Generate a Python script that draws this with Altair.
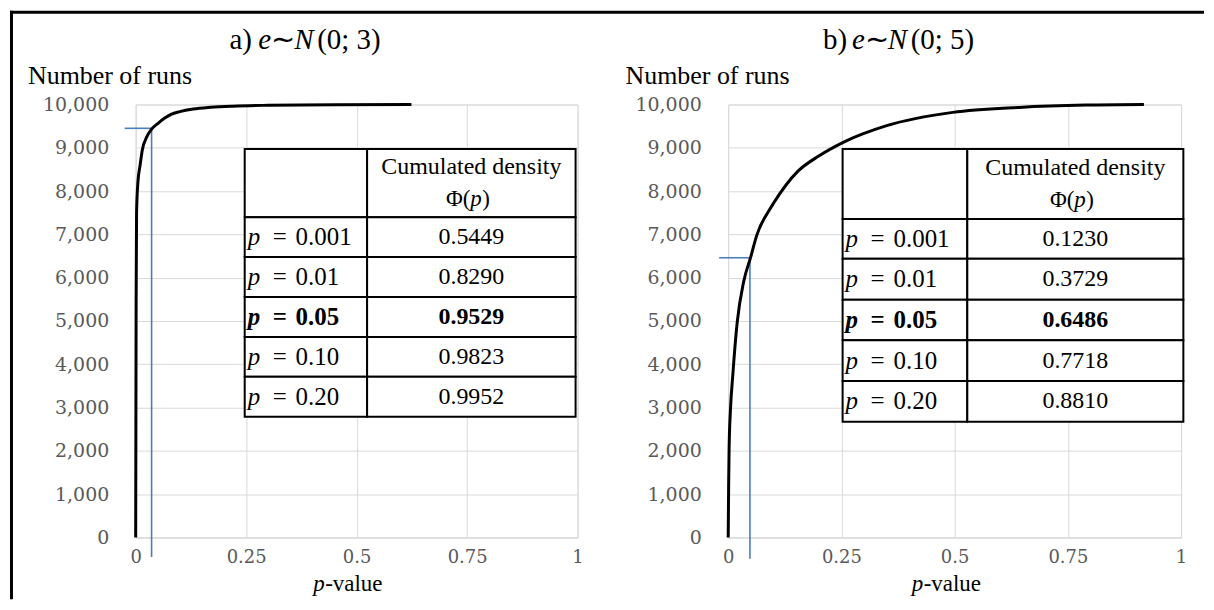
import altair as alt
import pandas as pd

# ---------------- data ----------------
panel_letters = ["a)", "b)"]
panel_sigmas = ["(0; 3)", "(0; 5)"]

p_a = [0, 0.001, 0.002, 0.005, 0.01, 0.015, 0.025, 0.036, 0.05, 0.065, 0.08, 0.1, 0.13, 0.17, 0.22, 0.3, 0.45, 0.624]
runs_a = [0, 5449, 7500, 8200, 8600, 8950, 9250, 9430, 9560, 9680, 9770, 9835, 9895, 9935, 9962, 9982, 9996, 10000]

p_b = [0, 0.001, 0.002, 0.005, 0.01, 0.02, 0.034, 0.05, 0.063, 0.0925, 0.1, 0.1535, 0.2, 0.254, 0.35, 0.496, 0.643, 0.79, 0.918]
runs_b = [0, 1230, 2050, 2950, 3729, 4977, 5900, 6486, 6977, 7591, 7718, 8454, 8810, 9126, 9511, 9818, 9933, 9986, 10000]

marker_p = [0.036, 0.048]
marker_runs = [9450, 6460]

table_p_labels = ["0.001", "0.01", "0.05", "0.10", "0.20"]
phi_a = ["0.5449", "0.8290", "0.9529", "0.9823", "0.9952"]
phi_b = ["0.1230", "0.3729", "0.6486", "0.7718", "0.8810"]
bold_row = 2

x_ticks = [0, 0.25, 0.5, 0.75, 1]
y_ticks = list(range(0, 10001, 1000))

# ---------------- layout / style ----------------
W = [443, 454]
H = 434
SERIF = "Liberation Serif"
TICK_FONT = "DejaVu Serif"
GRID = "#d9d9d9"
TICK_COLOR = "#595959"
BLUE = "#4a7ebb"
BLUE_LEFT = [-0.025, -0.02]
BLUE_BOTTOM = [-450, -490]
TABLE_COLS = [[109.3, 232, 441], [114.7, 239.7, 456.3]]
TABLE_ROWS = [[44.7, 113, 153, 193, 233, 273, 313], [44.7, 114.7, 154.7, 195.7, 236.3, 277.3, 318]]
TITLE_LEFT = [94, 95]
YTITLE_LEFT = [-108, -103]
PVAL_LEFT = [178, 184]

XS = alt.Scale(domain=[0, 1], nice=False, zero=False)
YS = alt.Scale(domain=[0, 10000], nice=False)
X_AXIS = alt.Axis(values=x_ticks, labelExpr="format(datum.value, '.2~f')", title=None, grid=True,
                  gridColor=GRID, gridWidth=1, domainColor=GRID, domainWidth=1, ticks=False,
                  labelFont=TICK_FONT, labelFontSize=18, labelColor=TICK_COLOR,
                  labelPadding=11, labelFlush=False)
Y_AXIS = alt.Axis(values=y_ticks, format=",d", title=None, grid=True, gridColor=GRID,
                  gridWidth=1, domain=False, ticks=False,
                  labelFont=TICK_FONT, labelFontSize=19, labelColor=TICK_COLOR,
                  labelPadding=27)


def X(field):
    return alt.X(field, scale=XS, axis=X_AXIS)


def Y(field):
    return alt.Y(field, scale=YS, axis=Y_AXIS)


def px_text(rows, **kw):
    df = pd.DataFrame(rows, columns=["px", "py", "t"])
    return alt.Chart(df).mark_text(**kw).encode(
        x=alt.X("px:Q", scale=None),
        y=alt.Y("py:Q", scale=None),
        text="t:N",
    )


def build_panel(i, p_vals, run_vals, phi_vals):
    width = W[i]
    curve = alt.Chart(pd.DataFrame({"p": p_vals, "runs": run_vals})).mark_line(
        color="black", strokeWidth=3, interpolate="monotone"
    ).encode(x=X("p:Q"), y=Y("runs:Q"))

    mk = pd.DataFrame({"p": [marker_p[i]], "runs": [marker_runs[i]],
                       "bottom": [BLUE_BOTTOM[i]], "left": [BLUE_LEFT[i]]})
    vline = alt.Chart(mk).mark_rule(color=BLUE, strokeWidth=1.6).encode(
        x=X("p:Q"), y=Y("runs:Q"), y2="bottom:Q")
    hline = alt.Chart(mk).mark_rule(color=BLUE, strokeWidth=1.6).encode(
        x=X("left:Q"), x2="p:Q", y=Y("runs:Q"))

    cols = TABLE_COLS[i]
    rows = TABLE_ROWS[i]
    cells = []
    for r in range(6):
        for c in range(2):
            cells.append({"x": cols[c], "x2": cols[c + 1], "y": rows[r], "y2": rows[r + 1]})
    table = alt.Chart(pd.DataFrame(cells)).mark_rect(fill="white", stroke="black", strokeWidth=2).encode(
        x=alt.X("x:Q", scale=None), x2="x2:Q", y=alt.Y("y:Q", scale=None), y2="y2:Q")

    cx = (cols[1] + cols[2]) / 2
    hc = (rows[0] + rows[1]) / 2
    layers = [vline, hline, curve, table]
    layers.append(px_text([[cx, hc - 16, "Cumulated density"]], font=SERIF, fontSize=24,
                          align="center", baseline="middle", color="black"))
    layers.append(px_text([[cx - 1, hc + 16, "Φ("]], font=SERIF, fontSize=23,
                          align="right", baseline="middle", color="black"))
    layers.append(px_text([[cx - 1, hc + 16, "p"]], font=SERIF, fontSize=23, fontStyle="italic",
                          align="left", baseline="middle", color="black"))
    layers.append(px_text([[cx + 11, hc + 16, ")"]], font=SERIF, fontSize=23,
                          align="left", baseline="middle", color="black"))

    for r in range(5):
        yc = (rows[r + 1] + rows[r + 2]) / 2
        wt = "bold" if r == bold_row else "normal"
        layers.append(px_text([[cols[0] + 3, yc, "p"]], font=SERIF, fontSize=25, fontStyle="italic",
                              fontWeight=wt, align="left", baseline="middle", color="black"))
        layers.append(px_text([[cols[0] + 28, yc, "="]], font=SERIF, fontSize=25,
                              fontWeight=wt, align="left", baseline="middle", color="black"))
        layers.append(px_text([[cols[0] + 51, yc, table_p_labels[r]]], font=SERIF, fontSize=25,
                              fontWeight=wt, align="left", baseline="middle", color="black"))
        layers.append(px_text([[cx, yc, phi_vals[r]]], font=SERIF, fontSize=24,
                              fontWeight=wt, align="center", baseline="middle", color="black"))

    # panel title: letter) e ~ N (0; s)
    tl = TITLE_LEFT[i]
    ty = -65
    layers.append(px_text([[tl, ty, panel_letters[i]], [tl + 88, ty, panel_sigmas[i]],
                           [tl + 42, ty, "∼"]],
                          font=SERIF, fontSize=29, align="left", baseline="middle", color="black"))
    layers.append(px_text([[tl + 29, ty, "e"], [tl + 65, ty, "N"]],
                          font=SERIF, fontSize=29, fontStyle="italic", align="left",
                          baseline="middle", color="black"))
    # y title
    layers.append(px_text([[YTITLE_LEFT[i], -29, "Number of runs"]], font=SERIF, fontSize=26,
                          align="left", baseline="middle", color="black"))
    # x title
    pl = PVAL_LEFT[i]
    layers.append(px_text([[pl, 481, "p"]], font=SERIF, fontSize=23, fontStyle="italic",
                          align="left", baseline="middle", color="black"))
    layers.append(px_text([[pl + 12, 481, "-value"]], font=SERIF, fontSize=23,
                          align="left", baseline="middle", color="black"))

    if i == 0:
        brd = pd.DataFrame({"a": [0]})
        top = alt.Chart(brd).mark_rule(color="black", strokeWidth=3).encode(
            x=alt.value(-126), x2=alt.value(1071), y=alt.value(-92.5))
        left = alt.Chart(brd).mark_rule(color="black", strokeWidth=3).encode(
            x=alt.value(-124.5), y=alt.value(-94), y2=alt.value(496))
        layers += [top, left]

    return alt.layer(*layers).properties(width=width, height=H)


panel_a = build_panel(0, p_a, runs_a, phi_a)
panel_b = build_panel(1, p_b, runs_b, phi_b)

chart = alt.hconcat(panel_a, panel_b, spacing=151, bounds="flush").properties(
    padding=0
).configure_view(strokeWidth=0).configure(background="white")

chart.save("out.html", embed_options={"renderer": "svg", "actions": False})
